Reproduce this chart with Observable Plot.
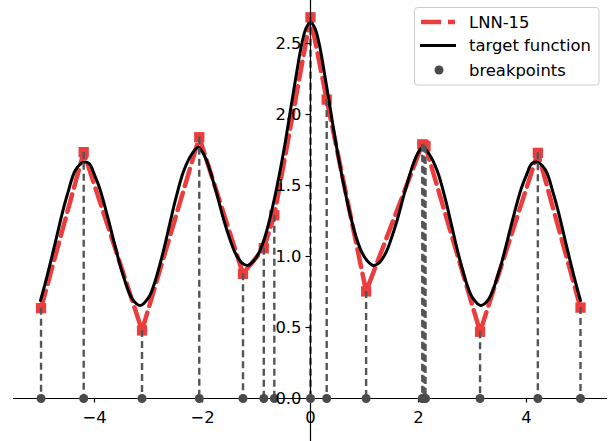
<!DOCTYPE html>
<html><head><meta charset="utf-8">
<script src="https://cdn.jsdelivr.net/npm/d3@7"></script>
<script src="https://cdn.jsdelivr.net/npm/@observablehq/plot@0.6"></script>
<style>
html,body{margin:0;padding:0;background:#fff;}
#chart{position:relative;width:614px;height:441px;overflow:hidden;}
</style></head><body><div id="chart"></div>
<script>
// target function samples
const targetX = [-5.0,-4.9,-4.75,-4.6,-4.5,-4.35,-4.2,-4.1,-4.0,-3.9,-3.75,-3.6,-3.5,-3.3,-3.15,-3.0,-2.9,-2.75,-2.6,-2.5,-2.35,-2.2,-2.08,-2.0,-1.9,-1.75,-1.6,-1.5,-1.4,-1.27,-1.16,-1.05,-0.95,-0.85,-0.75,-0.65,-0.55,-0.46,-0.35,-0.25,-0.16,-0.08,
  0,0.08,0.16,0.25,0.35,0.46,0.55,0.65,0.75,0.85,0.95,1.05,1.16,1.27,1.4,1.5,1.6,1.75,1.9,2.0,2.08,2.2,2.35,2.5,2.6,2.75,2.9,3.0,3.15,3.3,3.5,3.6,3.75,3.9,4.0,4.1,4.2,4.35,4.5,4.6,4.75,4.9,5.0];
const targetY = [0.69,0.83,1.06,1.30,1.44,1.61,1.665,1.655,1.575,1.475,1.27,1.045,0.905,0.70,0.655,0.71,0.80,1.00,1.24,1.40,1.60,1.72,1.77,1.735,1.65,1.46,1.25,1.13,1.03,0.955,0.937,0.97,1.03,1.13,1.27,1.44,1.63,1.82,2.08,2.31,2.50,2.61,
  2.65,2.61,2.50,2.31,2.08,1.82,1.63,1.44,1.27,1.13,1.03,0.97,0.937,0.955,1.03,1.13,1.25,1.46,1.65,1.735,1.77,1.72,1.60,1.40,1.24,1.00,0.80,0.71,0.655,0.70,0.905,1.045,1.27,1.475,1.575,1.655,1.665,1.61,1.44,1.30,1.06,0.83,0.69];
// LNN-15 vertices = breakpoints
const lnnX = [-4.99,-4.2,-3.12,-2.06,-1.25,-0.865,-0.67,0,0.30,1.03,2.07,2.09,2.11,2.13,3.14,4.21,5.0];
const lnnY = [0.636,1.735,0.479,1.84,0.878,1.058,1.29,2.685,2.105,0.754,1.79,1.785,1.78,1.775,0.47,1.73,0.64];
const xTicks = [-4,-2,0,2,4];
const xTickLabels = ["−4","−2","0","2","4"];
const yTicks = [0,0.5,1,1.5,2,2.5];
const yTickLabels = ["0.0","0.5","1.0","1.5","2.0","2.5"];
const seriesNames = ["LNN-15","target function","breakpoints"];

const RED = "#ec3d3e", GRAY = "#555555", DOT = "#4a4a4a";
const FONT = "DejaVu Sans", FS = "16.4px";
const W = 614, H = 441, mL = 13, mR = 7, mT = 0, mB = 0;
const xDom = [-5.5, 5.5], yDom = [-0.303, 2.803];
const pxPerX = (W - mL - mR) / (xDom[1] - xDom[0]);
const pxPerY = (H - mT - mB) / (yDom[1] - yDom[0]);
const tickLen = 4.5;

const target = targetX.map((x, i) => ({x, y: targetY[i]}));
const lnn = lnnX.map((x, i) => ({x, y: lnnY[i]}));

const plot = Plot.plot({
  width: W, height: H, marginLeft: mL, marginRight: mR, marginTop: mT, marginBottom: mB,
  x: {domain: xDom, axis: null},
  y: {domain: yDom, axis: null},
  style: {fontFamily: FONT, fontSize: FS, background: "#fff", color: "#000"},
  marks: [
    Plot.line(lnn, {x: "x", y: "y", stroke: RED, strokeWidth: 4.5, strokeDasharray: "18,7"}),
    Plot.dot(lnn, {x: "x", y: "y", symbol: "square", r: 5.8, fill: RED}),
    Plot.line(target, {x: "x", y: "y", stroke: "#000", strokeWidth: 3, curve: "catmull-rom"}),
    Plot.ruleX(lnn, {x: "x", y1: "y", y2: 0, stroke: GRAY, strokeWidth: 2.4, strokeDasharray: "7,4"}),
    Plot.ruleY([0], {stroke: "#000", strokeWidth: 1.2}),
    Plot.ruleX([0], {stroke: "#000", strokeWidth: 1.2}),
    Plot.ruleX(xTicks, {x: d => d, y1: 0, y2: -tickLen / pxPerY, stroke: "#000", strokeWidth: 1.2}),
    Plot.ruleY(yTicks, {y: d => d, x1: 0, x2: -tickLen / pxPerX, stroke: "#000", strokeWidth: 1.2}),
    Plot.dot(lnn, {x: "x", y: 0, r: 4.5, fill: DOT}),
    Plot.text(xTicks, {x: d => d, y: 0, dy: 19.5, text: (d, i) => xTickLabels[i], fill: "#000"}),
    Plot.text(yTicks, {x: 0, y: d => d, dx: -9, textAnchor: "end", text: (d, i) => yTickLabels[i], fill: "#000"})
  ]
});

// legend (upper right)
const svg = d3.select(plot);
const lg = svg.append("g").attr("font-family", FONT).attr("font-size", FS).attr("text-anchor", "start");
lg.append("rect").attr("x", 414.5).attr("y", 7.5).attr("width", 184.5).attr("height", 77.5)
  .attr("rx", 3).attr("fill", "#fff").attr("fill-opacity", 0.8).attr("stroke", "#cccccc").attr("stroke-width", 1);
const rows = [22, 45.5, 70];
lg.append("line").attr("x1", 421).attr("x2", 455).attr("y1", rows[0]).attr("y2", rows[0])
  .attr("stroke", RED).attr("stroke-width", 4.5).attr("stroke-dasharray", "20,7");
lg.append("line").attr("x1", 420).attr("x2", 456).attr("y1", rows[1]).attr("y2", rows[1])
  .attr("stroke", "#000").attr("stroke-width", 3);
lg.append("circle").attr("cx", 439).attr("cy", rows[2]).attr("r", 4.5).attr("fill", DOT);
seriesNames.forEach((s, i) => {
  lg.append("text").attr("x", 469).attr("y", rows[i]).attr("dy", "0.35em")
    .attr("text-anchor", "start").attr("fill", "#000").text(s);
});

document.getElementById("chart").appendChild(plot);
</script>
</body></html>
